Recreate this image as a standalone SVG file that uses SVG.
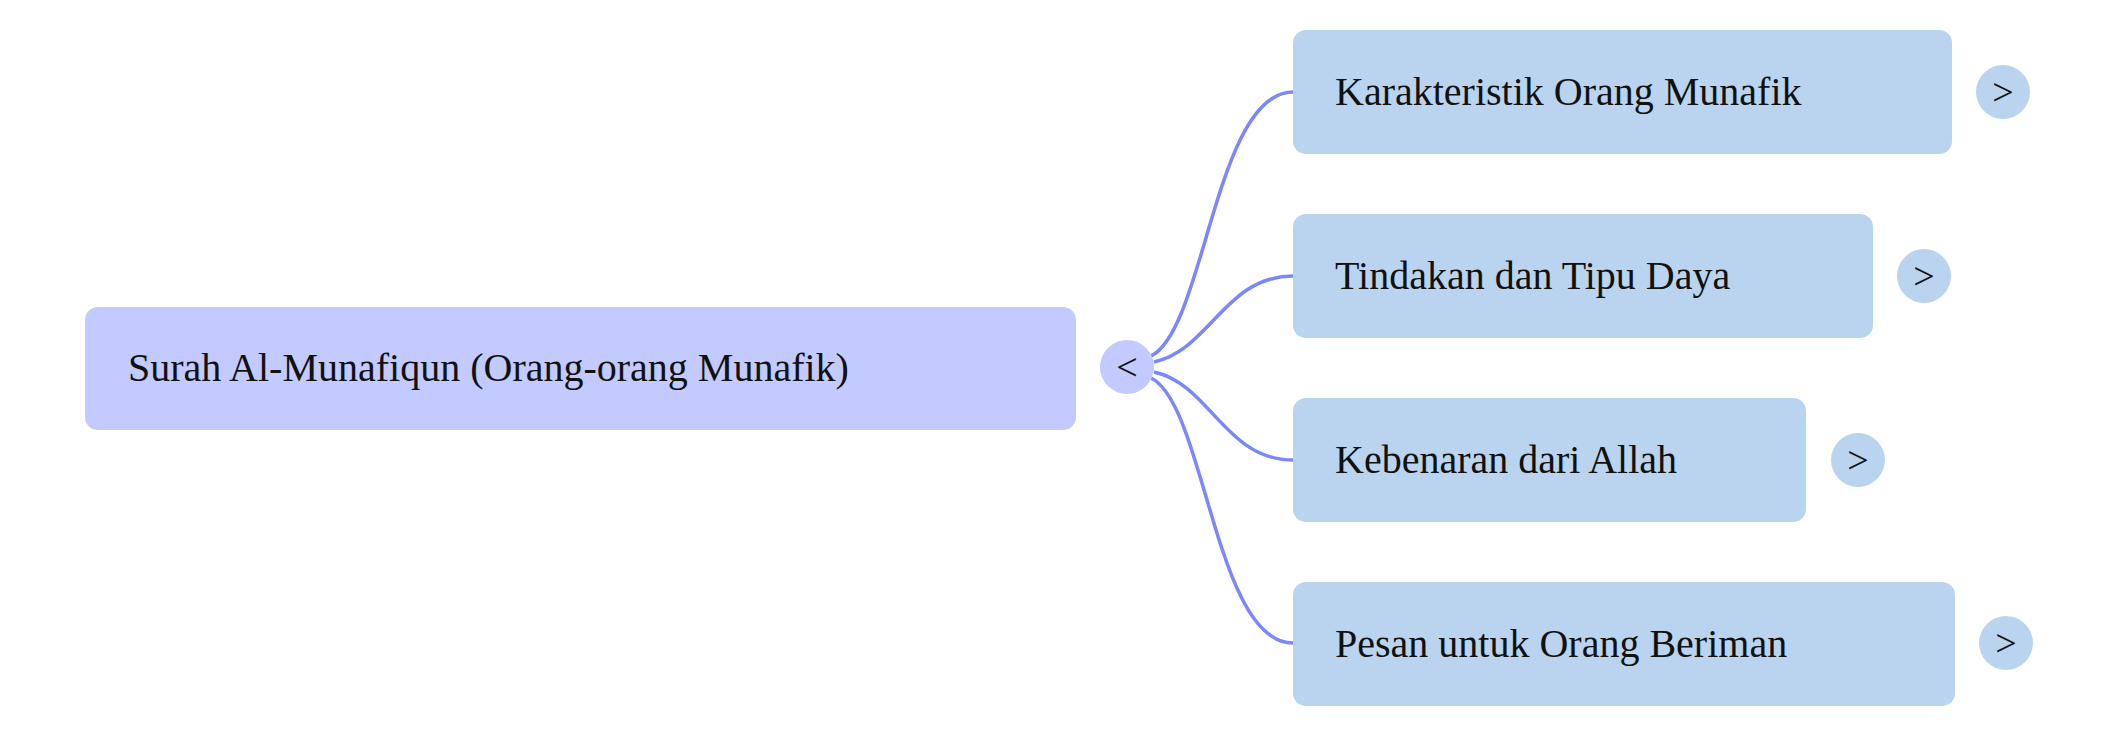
<svg xmlns="http://www.w3.org/2000/svg" width="2118" height="736" viewBox="0 0 2118 736">
<style>
.t{font-family:"Liberation Serif","Times New Roman",serif;font-size:40px;fill:#111}
.b{font-family:"Liberation Serif","Times New Roman",serif;font-size:38px;fill:#111;text-anchor:middle}
.root{fill:#c3caff}
.child{fill:#bad4ef}
.c{fill:none;stroke:#7b86ff;stroke-width:3.5}
</style>
<rect width="2118" height="736" fill="#fff"/>
<g id="connectors">
<path class="c" d="M1151,356 C1205,330 1215,92 1293,92"/>
<path class="c" d="M1154,362 C1210,350 1225,276 1293,276"/>
<path class="c" d="M1154,372 C1210,384 1225,460 1293,460"/>
<path class="c" d="M1151,378 C1205,404 1215,643 1293,643"/>
</g>
<g id="root">
<rect class="root" x="85" y="307" width="991" height="123" rx="13"/>
<text class="t" x="128" y="381">Surah Al-Munafiqun (Orang-orang Munafik)</text>
<circle class="root" cx="1127" cy="367" r="27"/>
<text class="b" x="1127" y="380">&lt;</text>
</g>
<g id="n1">
<rect class="child" x="1293" y="30" width="659" height="124" rx="13"/>
<text class="t" x="1335" y="105">Karakteristik Orang Munafik</text>
<circle class="child" cx="2003" cy="92" r="27"/>
<text class="b" x="2003" y="105">&gt;</text>
</g>
<g id="n2">
<rect class="child" x="1293" y="214" width="580" height="124" rx="13"/>
<text class="t" x="1335" y="289">Tindakan dan Tipu Daya</text>
<circle class="child" cx="1924" cy="276" r="27"/>
<text class="b" x="1924" y="289">&gt;</text>
</g>
<g id="n3">
<rect class="child" x="1293" y="398" width="513" height="124" rx="13"/>
<text class="t" x="1335" y="473">Kebenaran dari Allah</text>
<circle class="child" cx="1858" cy="460" r="27"/>
<text class="b" x="1858" y="473">&gt;</text>
</g>
<g id="n4">
<rect class="child" x="1293" y="582" width="662" height="124" rx="13"/>
<text class="t" x="1335" y="657">Pesan untuk Orang Beriman</text>
<circle class="child" cx="2006" cy="643" r="27"/>
<text class="b" x="2006" y="656">&gt;</text>
</g>
</svg>
